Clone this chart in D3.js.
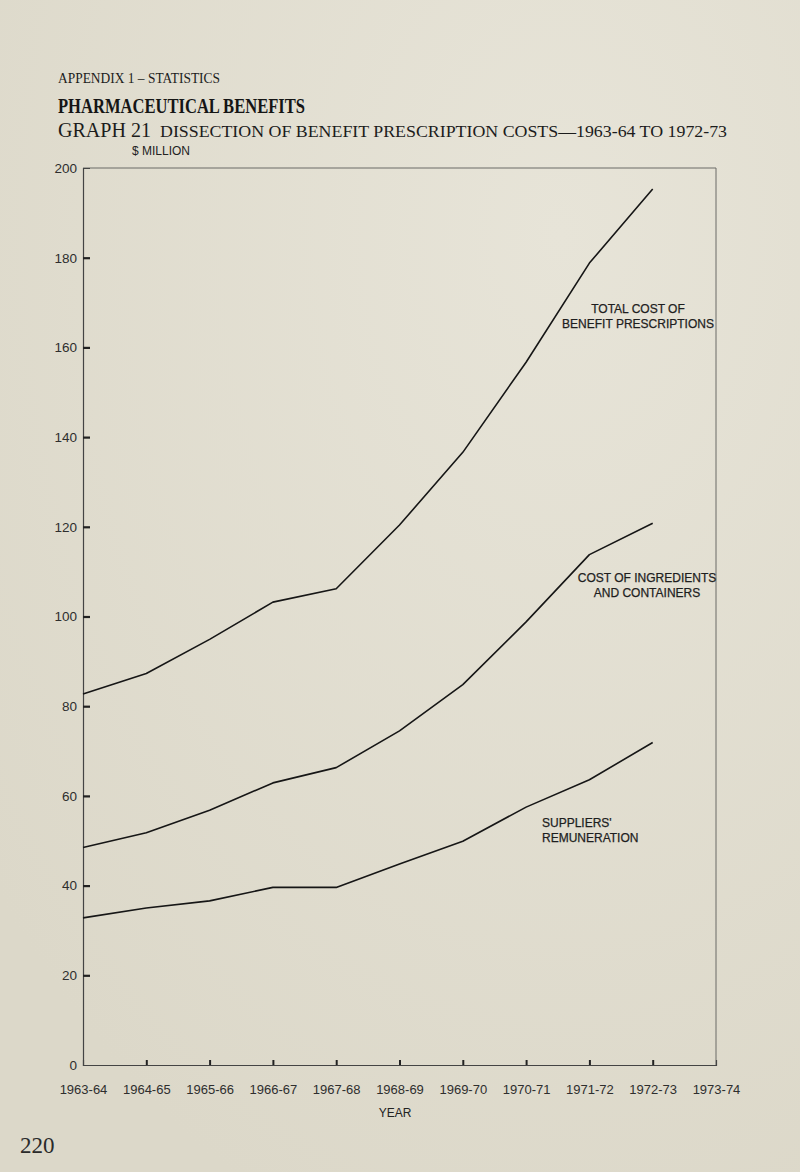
<!DOCTYPE html>
<html>
<head>
<meta charset="utf-8">
<script src="https://cdn.jsdelivr.net/npm/d3@7"></script>
<style>
  body { margin: 0; background: #e1ddcf; }
  svg { display: block; }
</style>
</head>
<body>
<div id="chart"></div>
<script>
// years on the x axis (the last one only closes the frame)
var years = ["1963-64", "1964-65", "1965-66", "1966-67", "1967-68",
  "1968-69", "1969-70", "1970-71", "1971-72", "1972-73", "1973-74"];
// $ million, 1963-64 to 1972-73
var totalCost = [82.7, 87.3, 94.9, 103.2, 106.2, 120.4, 136.6, 156.7, 178.8, 195.3];
var ingredients = [48.5, 51.8, 56.8, 62.9, 66.3, 74.5, 84.8, 98.8, 113.8, 120.8];
var suppliers = [32.8, 35.0, 36.6, 39.6, 39.6, 44.8, 49.9, 57.5, 63.6, 71.9];
var yTicks = [0, 20, 40, 60, 80, 100, 120, 140, 160, 180, 200];

var svgWidth = 800;
var svgHeight = 1172;

// plot frame in page pixels
var frame = { left: 83, right: 716, top: 168, bottom: 1065 };

var svg = d3.select("#chart")
  .append("svg")
  .attr("width", svgWidth)
  .attr("height", svgHeight);

// paper
var grad = svg.append("defs").append("radialGradient")
  .attr("id", "paper").attr("cx", "70%").attr("cy", "20%").attr("r", "90%");
grad.append("stop").attr("offset", "0%").attr("stop-color", "#e7e4d8");
grad.append("stop").attr("offset", "100%").attr("stop-color", "#dcd8c9");
svg.append("rect")
  .attr("width", svgWidth).attr("height", svgHeight)
  .attr("fill", "url(#paper)");

var x = d3.scalePoint()
  .domain(years)
  .range([frame.left, frame.right]);

var y = d3.scaleLinear()
  .domain([0, 200])
  .range([frame.bottom, frame.top]);

// headings
var serif = "'Liberation Serif', 'DejaVu Serif', serif";
var sans = "'Liberation Sans', Arial, sans-serif";

svg.append("text")
  .attr("x", 58).attr("y", 83)
  .attr("font-family", serif).attr("font-size", 14)
  .attr("textLength", 162).attr("lengthAdjust", "spacingAndGlyphs")
  .attr("fill", "#1c1c1c")
  .text("APPENDIX 1 \u2013 STATISTICS");

svg.append("text")
  .attr("x", 58).attr("y", 113)
  .attr("font-family", serif).attr("font-size", 21).attr("font-weight", "bold")
  .attr("textLength", 247).attr("lengthAdjust", "spacingAndGlyphs")
  .attr("fill", "#151515")
  .text("PHARMACEUTICAL BENEFITS");

svg.append("text")
  .attr("x", 58).attr("y", 137)
  .attr("font-family", serif).attr("font-size", 20)
  .attr("textLength", 93).attr("lengthAdjust", "spacingAndGlyphs")
  .attr("fill", "#1c1c1c")
  .text("GRAPH 21");

svg.append("text")
  .attr("x", 160).attr("y", 137)
  .attr("font-family", serif).attr("font-size", 16)
  .attr("textLength", 567).attr("lengthAdjust", "spacingAndGlyphs")
  .attr("fill", "#1c1c1c")
  .text("DISSECTION OF BENEFIT PRESCRIPTION COSTS\u20141963-64 TO 1972-73");

svg.append("text")
  .attr("x", 132).attr("y", 155)
  .attr("font-family", sans).attr("font-size", 12)
  .attr("fill", "#222")
  .text("$ MILLION");

// frame (top and right sides are lighter)
svg.append("path")
  .attr("d", `M${frame.left},${frame.top}H${frame.right}V${frame.bottom}`)
  .attr("fill", "none")
  .attr("stroke", "#6b6b66")
  .attr("stroke-width", 1);

// y axis
var yAxis = d3.axisLeft(y)
  .tickValues(yTicks)
  .tickSize(-7)
  .tickPadding(6);

var yG = svg.append("g")
  .attr("transform", `translate(${frame.left},0)`)
  .call(yAxis);
yG.select(".domain").attr("stroke", "#444").attr("stroke-width", 1.2);
yG.selectAll(".tick line")
  .attr("stroke", "#222").attr("stroke-width", 2.2)
  .attr("display", d => (d === 0 || d === 200) ? "none" : null);
yG.selectAll(".tick text")
  .attr("font-family", sans).attr("font-size", 13.5).attr("fill", "#2e2e2e");

// x axis
var xAxis = d3.axisBottom(x)
  .tickSize(-5)
  .tickPadding(20);

var xG = svg.append("g")
  .attr("transform", `translate(0,${frame.bottom})`)
  .call(xAxis);
xG.select(".domain").attr("stroke", "#444").attr("stroke-width", 1.2);
xG.selectAll(".tick line")
  .attr("stroke", "#222").attr("stroke-width", 2)
  .attr("display", (d, i) => (i === 0 || i === years.length - 1) ? "none" : null);
xG.selectAll(".tick text")
  .attr("font-family", sans).attr("font-size", 13).attr("fill", "#2e2e2e");

svg.append("text")
  .attr("x", 395).attr("y", 1117)
  .attr("text-anchor", "middle")
  .attr("font-family", sans).attr("font-size", 12)
  .attr("fill", "#222")
  .text("YEAR");

// series lines
var line = d3.line()
  .x((d, i) => x(years[i]))
  .y(d => y(d));

[totalCost, ingredients, suppliers].forEach(function(series) {
  svg.append("path")
    .datum(series)
    .attr("d", line)
    .attr("fill", "none")
    .attr("stroke", "#161616")
    .attr("stroke-width", 1.6)
    .attr("stroke-linejoin", "round");
});

// series labels
function addLabel(lines, xPos, yPos, anchor) {
  var t = svg.append("text")
    .attr("font-family", sans).attr("font-size", 12)
    .attr("fill", "#1e1e1e")
    .attr("stroke", "#1e1e1e").attr("stroke-width", 0.25)
    .attr("text-anchor", anchor);
  lines.forEach(function(s, i) {
    t.append("tspan")
      .attr("x", xPos)
      .attr("y", yPos + i * 14.5)
      .text(s);
  });
}

addLabel(["TOTAL COST OF", "BENEFIT PRESCRIPTIONS"], 638, 313, "middle");
addLabel(["COST OF INGREDIENTS", "AND CONTAINERS"], 647, 582, "middle");
addLabel(["SUPPLIERS'", "REMUNERATION"], 542, 827, "start");

// page number
svg.append("text")
  .attr("x", 20).attr("y", 1153)
  .attr("font-family", serif).attr("font-size", 23)
  .attr("fill", "#2a2a2a")
  .text("220");
</script>
</body>
</html>
